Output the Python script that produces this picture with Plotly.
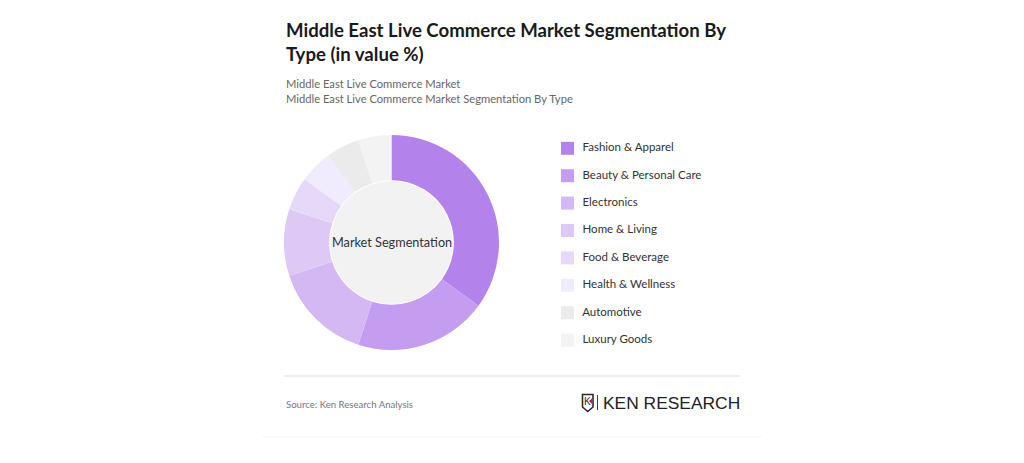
import plotly.graph_objects as go

# the page body has an 8px margin, so the figure is drawn 8px in from the corner
OFF = 8
W, H = 1024 - OFF, 463 - OFF

# segment shares (in value %), clockwise from 12 o'clock
categories = [
    "Fashion & Apparel",
    "Beauty & Personal Care",
    "Electronics",
    "Home & Living",
    "Food & Beverage",
    "Health & Wellness",
    "Automotive",
    "Luxury Goods",
]
shares = [35, 20, 15, 10, 5, 5, 5, 5]
colors = [
    "#b482eb",
    "#c49df0",
    "#d4b8f4",
    "#dec8f6",
    "#e6d8f8",
    "#f0ebfd",
    "#ebebeb",
    "#f3f3f3",
]

title_text = "Middle East Live Commerce Market Segmentation By<br>Type (in value %)"
subtitle_text = "Middle East Live Commerce Market<br>Middle East Live Commerce Market Segmentation By Type"
center_label = "Market Segmentation"
source_text = "Source: Ken Research Analysis"

FONT = "Lato, 'Open Sans', sans-serif"

# donut geometry in screen pixels
cx, cy, r = 391.5, 242.5, 107.5
hole = 0.58


def px(x):
    # screen pixel -> paper x
    return (x - OFF) / W


def py(y):
    # screen pixel from top -> paper y
    return 1 - (y - OFF) / H


fig = go.Figure()

fig.add_trace(
    go.Pie(
        labels=categories,
        values=shares,
        marker=dict(colors=colors, line=dict(width=0)),
        hole=hole,
        sort=False,
        direction="clockwise",
        rotation=0,
        textinfo="none",
        hovertemplate="%{label}: %{value}%<extra></extra>",
        showlegend=False,
        domain=dict(x=[px(cx - r), px(cx + r)], y=[py(cy + r), py(cy - r)]),
    )
)

# legend built from the categories list
leg_x, leg_y0, leg_dy = 567.5, 148.3, 27.4
fig.add_trace(
    go.Scatter(
        x=[leg_x] * len(categories),
        y=[leg_y0 + i * leg_dy for i in range(len(categories))],
        mode="markers+text",
        marker=dict(symbol="square", size=13, color=colors, line=dict(width=0)),
        text=["  " + c for c in categories],
        textposition="middle right",
        textfont=dict(family=FONT, size=11.5, color="#333333"),
        hoverinfo="skip",
        showlegend=False,
        cliponaxis=False,
    )
)

shapes = [
    # grey disc inside the hole
    dict(
        type="circle", layer="below", xref="x", yref="y",
        x0=cx - r * hole + 1, x1=cx + r * hole - 1,
        y0=cy - r * hole + 1, y1=cy + r * hole - 1,
        fillcolor="#f2f2f2", line=dict(width=0),
    ),
    # footer separator
    dict(type="line", xref="x", yref="y", x0=284, x1=740, y0=376, y1=376,
         line=dict(color="#e6e6e6", width=1.5)),
    # faint card edge
    dict(type="line", xref="x", yref="y", x0=262, x1=762, y0=437, y1=437,
         line=dict(color="#f5f5f5", width=1)),
    # logo shield
    dict(type="path", xref="x", yref="y",
         path="M 582.5 394.5 L 593 394.5 L 593 407 L 587.7 411.5 L 582.5 407 Z",
         line=dict(color="#2b2b2b", width=1.6), fillcolor="white"),
    dict(type="path", xref="x", yref="y",
         path="M 589 401 L 592 398.5 L 592 404 Z",
         line=dict(width=0), fillcolor="#c8202f"),
    # logo divider
    dict(type="line", xref="x", yref="y", x0=597.5, x1=597.5, y0=395, y1=410,
         line=dict(color="#444444", width=1)),
]

annotations = [
    dict(text="<b>" + title_text + "</b>", x=px(284), y=py(17), xref="paper", yref="paper",
         xanchor="left", yanchor="top", align="left", showarrow=False,
         font=dict(family=FONT, size=18.6, color="#1a1a1a")),
    dict(text=subtitle_text, x=px(284), y=py(75), xref="paper", yref="paper",
         xanchor="left", yanchor="top", align="left", showarrow=False,
         font=dict(family=FONT, size=11.2, color="#666666")),
    dict(text=center_label, x=px(cx), y=py(cy), xref="paper", yref="paper",
         xanchor="center", yanchor="middle", showarrow=False,
         font=dict(family=FONT, size=12.7, color="#333333")),
    dict(text=source_text, x=px(284), y=py(404), xref="paper", yref="paper",
         xanchor="left", yanchor="middle", showarrow=False,
         font=dict(family=FONT, size=9.6, color="#777777")),
    dict(text="K", x=px(587.8), y=py(401.5), xref="paper", yref="paper",
         xanchor="center", yanchor="middle", showarrow=False,
         font=dict(family="Liberation Sans", size=10, color="#2b2b2b")),
    dict(text="KEN RESEARCH", x=px(601), y=py(402.5), xref="paper", yref="paper",
         xanchor="left", yanchor="middle", showarrow=False,
         font=dict(family="Liberation Sans", size=17.4, color="#222222")),
]

fig.update_layout(
    width=W,
    height=H,
    margin=dict(l=0, r=0, t=0, b=0),
    paper_bgcolor="white",
    plot_bgcolor="rgba(0,0,0,0)",
    xaxis=dict(range=[OFF, OFF + W], visible=False, fixedrange=True, domain=[0, 1]),
    yaxis=dict(range=[OFF + H, OFF], visible=False, fixedrange=True, domain=[0, 1]),
    shapes=shapes,
    annotations=annotations,
    showlegend=False,
)

fig.write_html("out.html", config={"displayModeBar": False})
